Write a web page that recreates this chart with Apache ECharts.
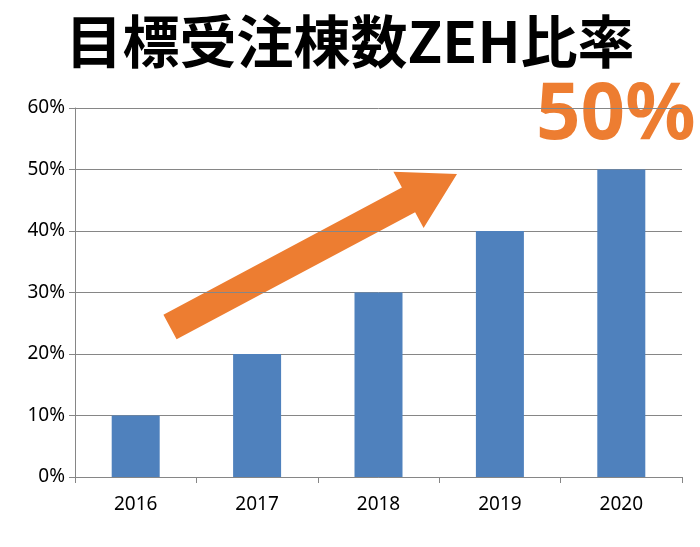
<!DOCTYPE html>
<html><head><meta charset="utf-8">
<script src="https://cdn.jsdelivr.net/npm/echarts@6/dist/echarts.min.js"></script>
<style>html,body{margin:0;padding:0;background:#fff}#c{width:700px;height:547px}</style>
</head><body><div id="c"></div>
<script>
const categories = ['2016','2017','2018','2019','2020'];
const values = [10, 20, 30, 40, 50];
const yTicks = [0, 10, 20, 30, 40, 50, 60];
const chart = echarts.init(document.getElementById('c'));
chart.setOption({
  animation: false,
  grid: {left: 75, right: 18, top: 108, bottom: 70},
  title: {text: '目標受注棟数ZEH比率', left: 'center', top: 8,
    textStyle: {fontSize: 57, fontWeight: 'bold', color: '#000', fontFamily: 'Noto Sans CJK JP'}},
  xAxis: {type: 'category', data: categories,
    axisLine: {lineStyle: {color: '#868686'}},
    axisTick: {show: true, alignWithLabel: false, length: 6, lineStyle: {color: '#868686'}},
    axisLabel: {fontSize: 19, color: '#000', margin: 18, fontFamily: 'Noto Sans'}},
  yAxis: {type: 'value', min: yTicks[0], max: yTicks[yTicks.length-1], interval: 10,
    axisLine: {show: true, lineStyle: {color: '#868686'}},
    axisTick: {show: true, length: 6, lineStyle: {color: '#868686'}},
    splitLine: {lineStyle: {color: '#868686'}},
    axisLabel: {fontSize: 19, color: '#000', formatter: '{value}%', margin: 10, fontFamily: 'Noto Sans'}},
  series: [{type: 'bar', data: values, barWidth: 48, itemStyle: {color: '#4f81bd'}}],
  graphic: [
    {type: 'polygon', shape: {points: [[176.6,339.3],[163.4,314.7],[401.9,187.6],[393.4,171.7],[457,174],[423.6,228.1],[415.1,212.2]]},
     style: {fill: '#ed7d31'}},
    {type: 'text', left: 536, top: 78, style: {text: '50%', fontSize: 78, fontWeight: 'bold', fill: '#ed7d31', fontFamily: 'Noto Sans'}}
  ]
});
</script></body></html>
